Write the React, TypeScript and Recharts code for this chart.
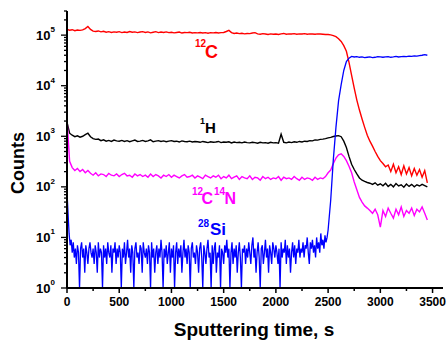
import React from "react";
import { LineChart, Line, XAxis, YAxis } from "recharts";

// sputtering time, s (every 25 s)
const time = [
  0, 25, 50, 75, 100, 125, 150, 175, 200, 225,
  250, 275, 300, 325, 350, 375, 400, 425, 450, 475,
  500, 525, 550, 575, 600, 625, 650, 675, 700, 725,
  750, 775, 800, 825, 850, 875, 900, 925, 950, 975,
  1000, 1025, 1050, 1075, 1100, 1125, 1150, 1175, 1200, 1225,
  1250, 1275, 1300, 1325, 1350, 1375, 1400, 1425, 1450, 1475,
  1500, 1525, 1550, 1575, 1600, 1625, 1650, 1675, 1700, 1725,
  1750, 1775, 1800, 1825, 1850, 1875, 1900, 1925, 1950, 1975,
  2000, 2025, 2050, 2075, 2100, 2125, 2150, 2175, 2200, 2225,
  2250, 2275, 2300, 2325, 2350, 2375, 2400, 2425, 2450, 2475,
  2500, 2525, 2550, 2575, 2600, 2625, 2650, 2675, 2700, 2725,
  2750, 2775, 2800, 2825, 2850, 2875, 2900, 2925, 2950, 2975,
  3000, 3025, 3050, 3075, 3100, 3125, 3150, 3175, 3200, 3225,
  3250, 3275, 3300, 3325, 3350, 3375, 3400, 3425, 3450,
];

const carbon12 = [
  130000, 125000, 128000, 122000, 126000, 124000, 127000, 135000, 148000, 130000,
  120000, 118000, 121000, 116000, 119000, 114000, 117000, 113000, 116000, 114000,
  117000, 112000, 115000, 113000, 118000, 114000, 116000, 112000, 115000, 117000,
  113000, 116000, 111000, 114000, 117000, 112000, 115000, 113000, 116000, 112000,
  114000, 111000, 113000, 115000, 110000, 113000, 112000, 114000, 110000, 112000,
  111000, 113000, 110000, 112000, 109000, 112000, 111000, 113000, 110000, 112000,
  113000, 118000, 124000, 112000, 108000, 110000, 107000, 109000, 106000, 108000,
  107000, 110000, 112000, 106000, 104000, 107000, 105000, 103000, 106000, 104000,
  105000, 103000, 106000, 108000, 104000, 106000, 105000, 107000, 104000, 106000,
  105000, 107000, 104000, 106000, 105000, 104000, 106000, 105000, 104000, 103000,
  103000, 101000, 98000, 93000, 85000, 75000, 62000, 48000, 29000, 16000,
  9000, 5200, 3300, 2200, 1500, 1050, 800, 640, 500, 400,
  330, 290, 250, 270, 200, 280, 190, 250, 175, 260,
  180, 240, 165, 230, 170, 220, 155, 210, 120,
];

const hydrogen1 = [
  1900, 1150, 1050, 980, 1020, 960, 1000, 1080, 1150, 980,
  900, 870, 880, 820, 850, 800, 830, 790, 840, 810,
  800, 830, 790, 820, 780, 810, 840, 790, 800, 830,
  790, 810, 850, 780, 800, 820, 790, 810, 780, 800,
  820, 790, 800, 770, 810, 790, 780, 800, 770, 790,
  780, 760, 790, 770, 750, 780, 760, 770, 790, 750,
  770, 760, 780, 740, 770, 750, 760, 740, 770, 750,
  740, 760, 750, 730, 760, 740, 750, 730, 760, 740,
  750, 730, 1100, 760, 740, 770, 750, 780, 760, 790,
  770, 800, 790, 820, 810, 850, 840, 870, 880, 900,
  930, 950, 990, 1010, 1030, 980, 800, 600, 400, 280,
  220, 180, 150, 135, 128, 122, 118, 112, 120, 108,
  115, 105, 118, 102, 112, 100, 116, 104, 110, 98,
  114, 102, 112, 100, 110, 104, 112, 106, 100,
];

const cn = [
  2200, 320, 240, 210, 230, 200, 220, 190, 210, 185,
  170, 190, 165, 180, 175, 160, 185, 170, 165, 180,
  160, 175, 185, 165, 170, 155, 180, 165, 175, 160,
  170, 155, 180, 160, 175, 165, 150, 170, 160, 175,
  155, 170, 160, 150, 165, 175, 155, 160, 170, 150,
  165, 155, 145, 170, 160, 150, 165, 155, 170, 145,
  160, 150, 170, 145, 155, 165, 140, 160, 150, 145,
  165, 140, 155, 150, 135, 160, 145, 155, 140, 150,
  145, 160, 135, 155, 145, 150, 140, 160, 145, 135,
  155, 140, 150, 145, 135, 155, 140, 150, 145, 160,
  190, 215, 290, 370, 430, 450, 400, 330, 255, 190,
  125, 88, 62, 50, 42, 38, 34, 30, 36, 28,
  16, 34, 26, 38, 30, 24, 36, 28, 40, 26,
  34, 30, 38, 27, 36, 32, 40, 30, 22,
];

// 28Si is sampled finer (10 s) over the noisy substrate-free part
const siTime = [
  0, 10, 20, 30, 40, 50, 60, 70, 80, 90, 100, 110, 120, 130, 140, 150, 160, 170, 180, 190, 200, 210, 220, 230, 240,
  250, 260, 270, 280, 290, 300, 310, 320, 330, 340, 350, 360, 370, 380, 390, 400, 410, 420, 430, 440, 450, 460, 470, 480, 490,
  500, 510, 520, 530, 540, 550, 560, 570, 580, 590, 600, 610, 620, 630, 640, 650, 660, 670, 680, 690, 700, 710, 720, 730, 740,
  750, 760, 770, 780, 790, 800, 810, 820, 830, 840, 850, 860, 870, 880, 890, 900, 910, 920, 930, 940, 950, 960, 970, 980, 990,
  1000, 1010, 1020, 1030, 1040, 1050, 1060, 1070, 1080, 1090, 1100, 1110, 1120, 1130, 1140, 1150, 1160, 1170, 1180, 1190, 1200, 1210, 1220, 1230, 1240,
  1250, 1260, 1270, 1280, 1290, 1300, 1310, 1320, 1330, 1340, 1350, 1360, 1370, 1380, 1390, 1400, 1410, 1420, 1430, 1440, 1450, 1460, 1470, 1480, 1490,
  1500, 1510, 1520, 1530, 1540, 1550, 1560, 1570, 1580, 1590, 1600, 1610, 1620, 1630, 1640, 1650, 1660, 1670, 1680, 1690, 1700, 1710, 1720, 1730, 1740,
  1750, 1760, 1770, 1780, 1790, 1800, 1810, 1820, 1830, 1840, 1850, 1860, 1870, 1880, 1890, 1900, 1910, 1920, 1930, 1940, 1950, 1960, 1970, 1980, 1990,
  2000, 2010, 2020, 2030, 2040, 2050, 2060, 2070, 2080, 2090, 2100, 2110, 2120, 2130, 2140, 2150, 2160, 2170, 2180, 2190, 2200, 2210, 2220, 2230, 2240,
  2250, 2260, 2270, 2280, 2290, 2300, 2310, 2320, 2330, 2340, 2350, 2360, 2370, 2380, 2390, 2400, 2410, 2420, 2430, 2440, 2450, 2460, 2470, 2480, 2490,
  2500, 2525, 2550, 2575, 2600, 2625, 2650, 2675, 2700, 2725,
  2750, 2775, 2800, 2825, 2850, 2875, 2900, 2925, 2950, 2975,
  3000, 3025, 3050, 3075, 3100, 3125, 3150, 3175, 3200, 3225,
  3250, 3275, 3300, 3325, 3350, 3375, 3400, 3425, 3450,
];

const silicon28 = [
  80, 30, 12, 7, 9, 5, 8, 4, 6, 3, 7, 5, 1, 6, 8, 4, 6, 2, 7, 5, 3, 6, 8, 5, 4,
  6, 3, 7, 5, 2, 8, 4, 6, 5, 1, 7, 4, 6, 3, 8, 5, 4, 7, 2, 6, 5, 8, 3, 6, 4,
  7, 5, 1, 6, 4, 8, 3, 5, 9, 4, 6, 2, 7, 5, 1, 6, 8, 4, 5, 3, 7, 6, 2, 8, 5,
  4, 6, 3, 7, 5, 1, 8, 4, 6, 2, 5, 7, 3, 6, 4, 9, 5, 1, 6, 4, 7, 3, 5, 8, 2,
  6, 4, 7, 1, 5, 8, 3, 6, 4, 7, 2, 5, 9, 4, 6, 3, 7, 5, 1, 6, 8, 4, 5, 3, 7,
  5, 2, 6, 8, 4, 1, 7, 5, 3, 6, 9, 4, 5, 1, 7, 3, 6, 8, 2, 5, 4, 7, 1, 6, 5,
  3, 7, 5, 9, 4, 6, 1, 5, 8, 3, 6, 4, 7, 2, 5, 8, 4, 1, 6, 5, 7, 3, 6, 4, 8,
  5, 3, 7, 10, 4, 6, 2, 5, 8, 4, 1, 6, 7, 3, 5, 9, 4, 6, 2, 7, 5, 3, 8, 6, 4,
  7, 5, 3, 6, 1, 8, 4, 6, 5, 9, 3, 7, 4, 6, 2, 5, 8, 4, 7, 3, 6, 5, 9, 4, 6,
  5, 8, 4, 7, 6, 10, 5, 3, 8, 6, 9, 5, 7, 4, 10, 6, 8, 5, 12, 7, 9, 6, 11, 8, 10,
  14, 55, 350, 1500, 5000, 10500, 20000, 30000, 35000, 38000,
  37000, 37500, 36500, 37000, 36000, 36500, 37000, 36000, 36500, 37500,
  37000, 36500, 37000, 37500, 36500, 37000, 38000, 37000, 37500, 38000,
  37500, 38500, 38000, 39000, 38500, 39500, 40000, 41000, 40000,
];

const xMajor = [0, 500, 1000, 1500, 2000, 2500, 3000, 3500];
const xMinor = [250, 750, 1250, 1750, 2250, 2750, 3250];
const yMajor = [1, 10, 100, 1000, 10000, 100000];
const yMinorSteps = [2, 3, 4, 5, 6, 7, 8, 9];

const data = time.map((t, i) => ({
  t,
  c12: carbon12[i],
  h1: hydrogen1[i],
  cn: cn[i],
}));
const siData = siTime.map((t, i) => ({ t, si: silicon28[i] }));

const xTicks = [...xMajor, ...xMinor].sort((a, b) => a - b);
const yTicks = yMajor
  .flatMap((m) => [m, ...yMinorSteps.map((s) => s * m)])
  .filter((v) => v <= 300000);

const FONT = '"Liberation Sans", Arial, Helvetica, sans-serif';

function BottomTick({ x, y, payload }: any) {
  const major = xMajor.includes(payload.value);
  return (
    <g>
      <line x1={x} x2={x} y1={y} y2={y + (major ? 5 : 3)} stroke="#000" strokeWidth={1.5} />
      {major && (
        <text x={x} y={y + 18} textAnchor="middle" fontSize={12} fontWeight="bold" fontFamily={FONT} fill="#000">
          {payload.value}
        </text>
      )}
    </g>
  );
}

function TopTick({ x, y, payload }: any) {
  const major = xMajor.includes(payload.value);
  return <line x1={x} x2={x} y1={y} y2={y + (major ? 5 : 3)} stroke="#000" strokeWidth={1.5} />;
}

function LeftTick({ x, y, payload }: any) {
  const major = yMajor.includes(payload.value);
  const exp = Math.round(Math.log10(payload.value));
  return (
    <g>
      <line x1={x - (major ? 6 : 3)} x2={x} y1={y} y2={y} stroke="#000" strokeWidth={1.3} />
      {major && (
        <text x={x - 12} y={y + 4.5} textAnchor="end" fontSize={13} fontWeight="bold" fontFamily={FONT} fill="#000">
          <tspan>10</tspan>
          <tspan fontSize={8} dy={-7.5}>{exp}</tspan>
        </text>
      )}
    </g>
  );
}

function RightTick({ x, y, payload }: any) {
  const major = yMajor.includes(payload.value);
  return <line x1={x - (major ? 5 : 3)} x2={x} y1={y} y2={y} stroke="#000" strokeWidth={1.3} />;
}

export default function App() {
  const axisLine = { stroke: "#000", strokeWidth: 2 };
  return (
    <div style={{ position: "absolute", left: 0, top: 0, width: 447, height: 341, background: "#fff" }}>
      <LineChart width={447} height={341} data={data} margin={{ top: 11, right: 4, left: 0, bottom: 0 }}>
        <XAxis
          xAxisId="bottom"
          dataKey="t"
          type="number"
          domain={[0, 3600]}
          ticks={xTicks}
          interval={0}
          height={53}
          tickSize={0}
          tickMargin={0}
          tickLine={false}
          axisLine={axisLine}
          tick={BottomTick}
        />
        <XAxis
          xAxisId="top"
          orientation="top"
          dataKey="t"
          type="number"
          domain={[0, 3600]}
          ticks={xTicks}
          interval={0}
          height={0}
          tickSize={0}
          tickMargin={0}
          tickLine={false}
          axisLine={axisLine}
          tick={TopTick}
        />
        <YAxis
          yAxisId="left"
          scale="log"
          type="number"
          domain={[1, 300000]}
          allowDataOverflow
          ticks={yTicks}
          interval={0}
          width={67}
          tickSize={0}
          tickMargin={0}
          tickLine={false}
          axisLine={axisLine}
          tick={LeftTick}
        />
        <YAxis
          yAxisId="right"
          orientation="right"
          scale="log"
          type="number"
          domain={[1, 300000]}
          allowDataOverflow
          ticks={yTicks}
          interval={0}
          width={0}
          tickSize={0}
          tickMargin={0}
          tickLine={false}
          axisLine={axisLine}
          tick={RightTick}
        />
        <Line xAxisId="bottom" yAxisId="left" dataKey="c12" stroke="#ff0000" strokeWidth={1.4} dot={false} isAnimationActive={false} />
        <Line xAxisId="bottom" yAxisId="left" dataKey="h1" stroke="#000000" strokeWidth={1.4} dot={false} isAnimationActive={false} />
        <Line xAxisId="bottom" yAxisId="left" dataKey="cn" stroke="#ff00ff" strokeWidth={1.4} dot={false} isAnimationActive={false} />
        <Line xAxisId="bottom" yAxisId="left" data={siData} dataKey="si" stroke="#0000ff" strokeWidth={1.3} dot={false} isAnimationActive={false} />
      </LineChart>
      <svg
        width={447}
        height={341}
        style={{ position: "absolute", left: 0, top: 0, pointerEvents: "none" }}
        fontFamily={FONT}
        fontWeight="bold"
      >
        <text x={18} y={163} fontSize={18} textAnchor="middle" dominantBaseline="central" transform="rotate(-90 18 163)" fill="#000">
          Counts
        </text>
        <text x={254} y={336} fontSize={19} textAnchor="middle" fill="#000">
          Sputtering time, s
        </text>
        <text fill="#ff0000">
          <tspan x={195} y={47} fontSize={10}>12</tspan>
          <tspan x={205} y={58} fontSize={18}>C</tspan>
        </text>
        <text fill="#000">
          <tspan x={200} y={124} fontSize={9}>1</tspan>
          <tspan x={205} y={133} fontSize={15}>H</tspan>
        </text>
        <text fill="#ff00ff">
          <tspan x={192} y={195} fontSize={10}>12</tspan>
          <tspan x={201.5} y={204} fontSize={16}>C</tspan>
          <tspan x={214} y={195} fontSize={10}>14</tspan>
          <tspan x={224.5} y={204} fontSize={16}>N</tspan>
        </text>
        <text fill="#0000ff">
          <tspan x={198} y={227} fontSize={10}>28</tspan>
          <tspan x={210} y={235} fontSize={17}>Si</tspan>
        </text>
      </svg>
    </div>
  );
}
